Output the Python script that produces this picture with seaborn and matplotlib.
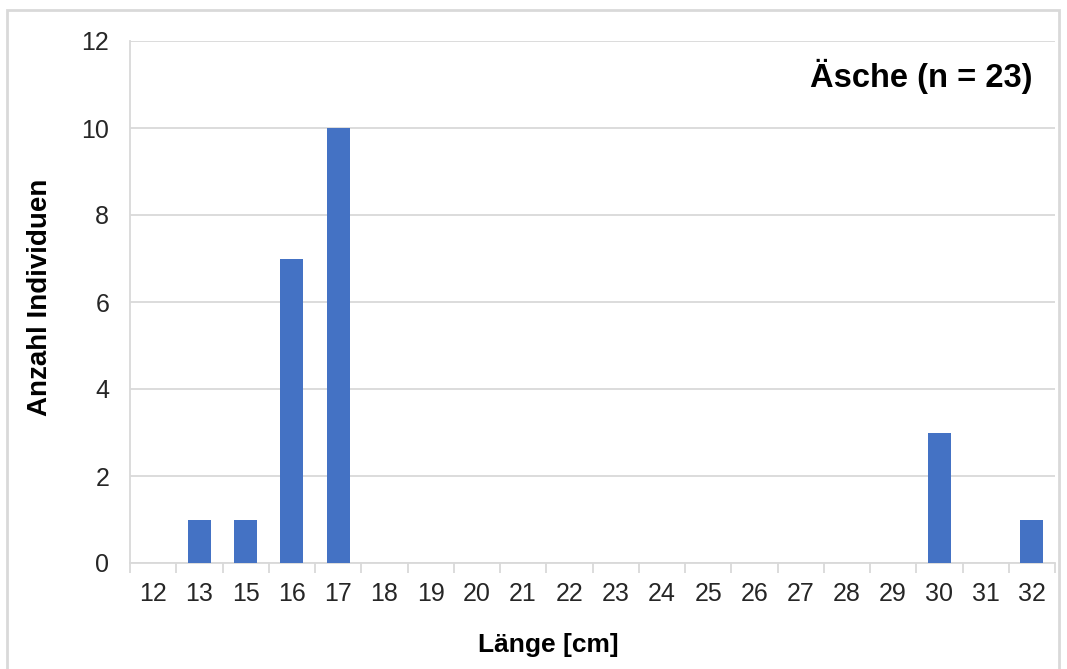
import matplotlib
matplotlib.use("Agg")
import matplotlib.pyplot as plt
import seaborn as sns
import pandas as pd
from matplotlib.patches import Rectangle

# Length classes (cm) and number of individuals per class
lengths = ["12", "13", "15", "16", "17", "18", "19", "20", "21", "22",
           "23", "24", "25", "26", "27", "28", "29", "30", "31", "32"]
counts = [0, 1, 1, 7, 10, 0, 0, 0, 0, 0,
          0, 0, 0, 0, 0, 0, 0, 3, 0, 1]
y_ticks = [0, 2, 4, 6, 8, 10, 12]
title_text = "Äsche (n = 23)"

sns.set_theme(style="white")
plt.rcParams["font.family"] = ["Liberation Sans", "DejaVu Sans"]

df = pd.DataFrame({"Länge": lengths, "Anzahl": counts})

fig = plt.figure(figsize=(10.67, 6.69), dpi=100)
ax = fig.add_axes([130 / 1067, 1 - 563 / 669, 925 / 1067, 522 / 669])

grid_col = "#d9d9d9"

sns.barplot(data=df, x="Länge", y="Anzahl", order=lengths, color="#4472C4",
            width=0.5, saturation=1, linewidth=0, ax=ax, zorder=3)

ax.set_xlim(-0.5, len(lengths) - 0.5)
ax.set_ylim(0, 12)
ax.set_yticks(y_ticks)
ax.yaxis.grid(True, color=grid_col, linewidth=1.3, zorder=0)
ax.set_axisbelow(True)

for side in ["top", "right"]:
    ax.spines[side].set_visible(False)
for side in ["left", "bottom"]:
    ax.spines[side].set_color(grid_col)
    ax.spines[side].set_linewidth(1.3)

# Category-boundary tick marks below the axis
ax.set_xticks([i - 0.5 for i in range(len(lengths) + 1)], minor=True)
ax.tick_params(axis="x", which="minor", length=7, width=1.3, color=grid_col,
               direction="out", bottom=True)
ax.tick_params(axis="x", which="major", length=0, pad=14, labelsize=18,
               labelcolor="#262626")
ax.tick_params(axis="y", which="major", length=0, pad=15, labelsize=18,
               labelcolor="#262626")

ax.set_xlabel("Länge [cm]", fontsize=19, fontweight="bold", color="black")
ax.set_ylabel("Anzahl Individuen", fontsize=20, fontweight="bold", color="black")
ax.xaxis.set_label_coords((548 - 130) / 925, (563 - 645) / 522)
ax.yaxis.set_label_coords(-(130 - 40) / 925, (563 - 297) / 522)
ax.xaxis.label.set_va("center")
ax.yaxis.label.set_va("center")

ax.text(0.976, 0.933, title_text, transform=ax.transAxes, ha="right",
        va="center", fontsize=23.5, fontweight="bold", color="black")

# Light chart-area frame
fig.patches.append(Rectangle((7 / 1067, -0.01), (1059 - 7) / 1067, 1.01 - 10 / 669,
                             transform=fig.transFigure, fill=False,
                             edgecolor=grid_col, linewidth=2, zorder=0))

fig.savefig("out.png", dpi=100)
